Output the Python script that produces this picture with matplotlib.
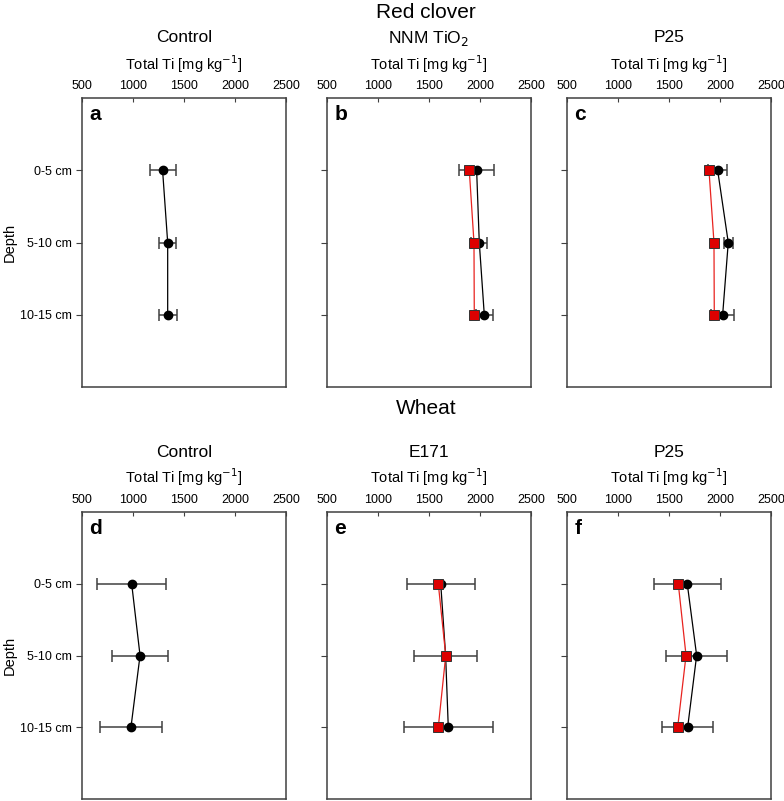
import numpy as np
import matplotlib.pyplot as plt

plt.rcParams['font.family'] = ['Liberation Sans', 'DejaVu Sans']

# profundidades
depths = ['0-5 cm', '5-10 cm', '10-15 cm']
ypos = [1, 2, 3]
xticks = [500, 1000, 1500, 2000, 2500]

# Red clover: control, NNM TiO2, P25 (media negra + error, serie roja)
rc_ctrl = [1290, 1340, 1340]
rc_ctrl_err = [127, 82, 90]
rc_nnm = [1967, 1993, 2042]
rc_nnm_err = [170, 78, 83]
rc_nnm_red = [1895, 1941, 1944]
rc_p25 = [1977, 2081, 2026]
rc_p25_err = [94, 45, 111]
rc_p25_red = [1892, 1941, 1944]

# Wheat: control, E171, P25
wh_ctrl = [987, 1069, 980]
wh_ctrl_err = [341, 272, 307]
wh_e171 = [1615, 1663, 1689]
wh_e171_err = [332, 312, 437]
wh_e171_red = [1591, 1664, 1591]
wh_p25 = [1679, 1771, 1683]
wh_p25_err = [327, 298, 252]
wh_p25_red = [1591, 1667, 1585]

panels = [
    ('a', 'Control', rc_ctrl, rc_ctrl_err, None),
    ('b', 'NNM TiO$_2$', rc_nnm, rc_nnm_err, rc_nnm_red),
    ('c', 'P25', rc_p25, rc_p25_err, rc_p25_red),
    ('d', 'Control', wh_ctrl, wh_ctrl_err, None),
    ('e', 'E171', wh_e171, wh_e171_err, wh_e171_red),
    ('f', 'P25', wh_p25, wh_p25_err, wh_p25_red),
]

fig = plt.figure(figsize=(7.84, 8.01), dpi=100)
W, H = 784, 801
lefts = [82, 327, 567]
rows = [(98, 387), (512, 799)]
# posiciones (px desde arriba) de titulo de grupo, subtitulo y etiqueta x
row_text = [(12, 38, 64), (408, 452, 477)]
gray = '#404040'

def fy(px):
    return 1 - px / H

for i, (letter, title, blk, err, red) in enumerate(panels):
    r, c = divmod(i, 3)
    top, bot = rows[r]
    ax = fig.add_axes([lefts[c] / W, fy(bot), 204 / W, (bot - top) / H])
    ax.errorbar(blk, ypos, xerr=err, fmt='-o', color='black', ms=6,
                lw=0.9, ecolor=gray, elinewidth=1.1, capsize=4, capthick=1.1,
                zorder=2)
    if red is not None:
        ax.plot(red, ypos, '-s', color='#e8231f', lw=0.9, ms=6.5,
                mfc='#dd0000', mec='#333333', mew=0.7, zorder=3)
    ax.set_xlim(500, 2500)
    ax.set_ylim(4, 0)
    ax.xaxis.tick_top()
    ax.set_xticks(xticks)
    ax.set_yticks(ypos)
    ax.tick_params(axis='x', direction='in', length=3, width=0.8, color=gray,
                   labelsize=9, pad=4)
    ax.tick_params(axis='y', direction='out', length=4, width=0.8, color=gray,
                   labelsize=9)
    if c == 0:
        ax.set_yticklabels(depths)
        fig.text(10 / W, fy((top + bot) / 2), 'Depth', fontsize=10.5,
                 rotation=90, ha='center', va='center')
    else:
        ax.set_yticklabels([])
    for s in ax.spines.values():
        s.set_color(gray)
        s.set_linewidth(1.1)
    xc = (lefts[c] + 102) / W
    g, t, lab = row_text[r]
    fig.text(xc, fy(t), title, fontsize=12.5, ha='center', va='center')
    fig.text(xc, fy(lab), 'Total Ti [mg kg$^{-1}$]', fontsize=10.5,
             ha='center', va='center')
    ax.text(0.035, 0.975, letter, transform=ax.transAxes, fontsize=15,
            fontweight='bold', ha='left', va='top')

fig.text(426 / W, fy(row_text[0][0]), 'Red clover', fontsize=15,
         ha='center', va='center')
fig.text(426 / W, fy(row_text[1][0]), 'Wheat', fontsize=15,
         ha='center', va='center')

plt.savefig('out.png', dpi=100)
